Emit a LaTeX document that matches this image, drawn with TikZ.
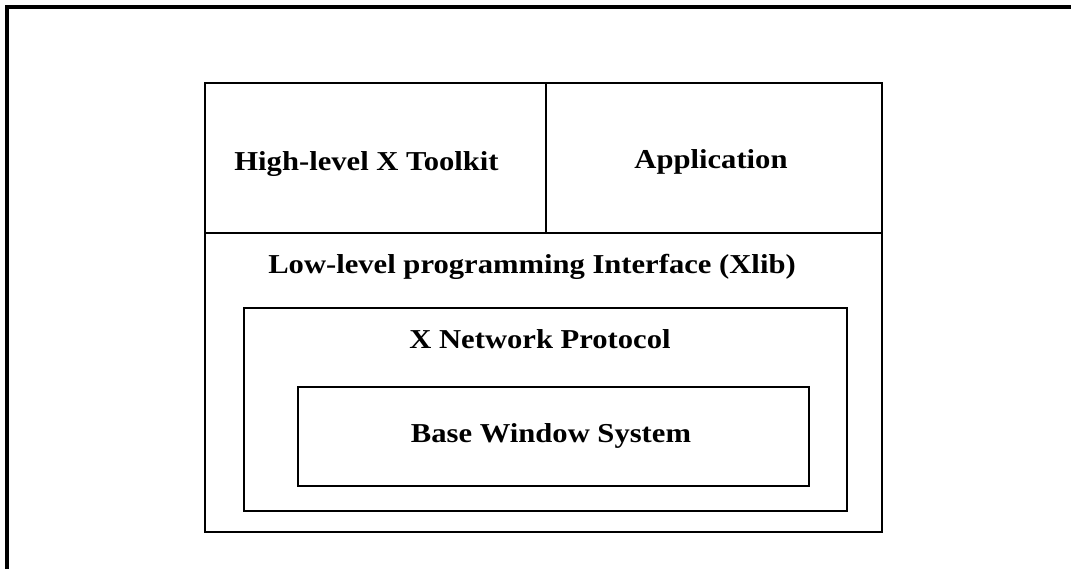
\documentclass[tikz,border=0pt]{standalone}
\usepackage{fontspec}
\setmainfont{Liberation Serif}[FakeStretch=1.12]
\begin{document}
\begin{tikzpicture}[x=0.75pt,y=-0.75pt,
  box/.style={draw=black,line width=1.5pt,rectangle,inner sep=0pt,outer sep=0pt},
  lbl/.style={font=\bfseries\fontsize{20.5pt}{24pt}\selectfont,inner sep=0pt,anchor=base}]
\useasboundingbox (0,0) rectangle (1071,569);
% outer frame (top and left edges only)
\coordinate (fTL) at (7,7);
\coordinate (fTR) at (1071,7);
\coordinate (fBL) at (7,569);
\draw[line width=2.3pt] (fTR) -- (fTL) -- (fBL);
% boxes
\node[box,minimum width=341*0.75pt,minimum height=150*0.75pt] (tk) at (375.5,158) {};
\node[box,minimum width=336*0.75pt,minimum height=150*0.75pt] (app) at (714,158) {};
\node[box,minimum width=677*0.75pt,minimum height=299*0.75pt] (xlib) at (543.5,382.5) {};
\node[box,minimum width=603*0.75pt,minimum height=203*0.75pt] (xnp) at (545.5,409.5) {};
\node[box,minimum width=511*0.75pt,minimum height=99*0.75pt] (bws) at (553.5,436.5) {};
% labels
\node[lbl] (tkt) at (366.5,170) {High-level X Toolkit};
\node[lbl] (appt) at (711,168) {Application};
\node[lbl] (xlibt) at (532,273) {Low-level programming Interface (Xlib)};
\node[lbl] (xnpt) at (540,348) {X Network Protocol};
\node[lbl] (bwst) at (551,442) {Base Window System};
\end{tikzpicture}
\end{document}
